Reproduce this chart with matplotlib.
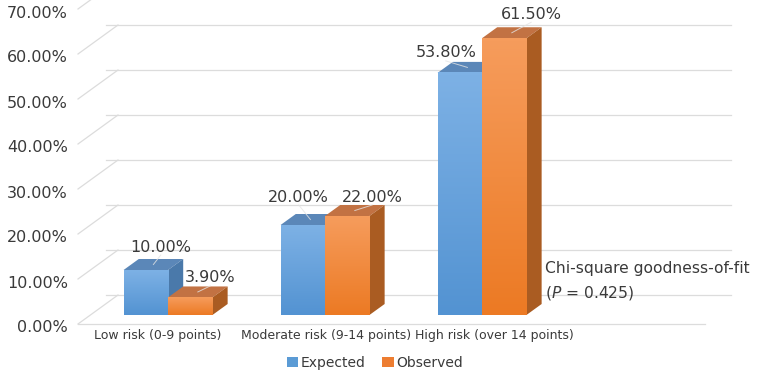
import numpy as np
import matplotlib.pyplot as plt
from matplotlib.patches import Polygon, Patch
from matplotlib.colors import LinearSegmentedColormap

# data
categories = ['Low risk (0-9 points)', 'Moderate risk (9-14 points)', 'High risk (over 14 points)']
expected = [10.0, 20.0, 53.8]
observed = [3.9, 22.0, 61.5]
series_names = ['Expected', 'Observed']
yticks = [0, 10, 20, 30, 40, 50, 60, 70]

W, H = 760, 378
fig = plt.figure(figsize=(7.6, 3.78), dpi=100)
ax = fig.add_axes([0, 0, 1, 1])

# scale: one category = 157 px, 1 % = 4.5 px (bar front plane)
XS, YS = 157.0, 4.5
X0, Y0 = 168, 315
ax.set_xlim(-X0 / XS, (W - X0) / XS)
ax.set_ylim(-(H - Y0) / YS, Y0 / YS)
ax.axis('off')


def dx(px):
    return px / XS


def dy(px):
    return -px / YS


# fake 3d: depth offsets in pixels
front_off = (dx(-12.4), dy(9))
back_off = (dx(27.6), dy(-20))
bar_off = (dx(15.2), dy(-11))

grid_c = '#dcdcdc'
txt_c = '#3a3a3a'
left = dx(78 - X0)
right = dx(705 - X0)

# back wall gridlines + left wall diagonals
for v in yticks:
    ax.plot([left + back_off[0], right + back_off[0] + dx(-2)], [v + back_off[1]] * 2,
            color=grid_c, lw=0.9, zorder=1)
    ax.plot([left + front_off[0] + dx(12.4), left + back_off[0] + dx(12.4)],
            [v + front_off[1], v + back_off[1]], color=grid_c, lw=0.9, zorder=1)
    ax.text(dx(68 - X0), v + front_off[1] + dy(4), f'{v:.2f}%', ha='right', va='center',
            fontsize=11.5, color=txt_c)
# floor front edge
ax.plot([left + dx(12.4) + front_off[0], right + dx(12.4) + front_off[0]],
        [front_off[1]] * 2, color=grid_c, lw=0.9, zorder=1)

styles = {
    'Expected': dict(top='#7db1e5', bot='#5393d2', lid='#5b87b8', side='#4a79aa', leg='#5b9bd5'),
    'Observed': dict(top='#f69c5c', bot='#ec7a24', lid='#c27243', side='#aa5c22', leg='#ed7d31'),
}
bw = 0.283
label_off = [[(15, -23), (20, -19.5)], [(-4, -28), (25, -19)], [(-14, -20), (27, -24)]]

z = 3
for i, cat in enumerate(categories):
    for j, (name, vals) in enumerate(zip(series_names, [expected, observed])):
        v = vals[i]
        st = styles[name]
        xl = i + (j - 1) * bw
        xr = xl + bw
        ox, oy = bar_off
        ax.add_patch(Polygon([(xl, v), (xr, v), (xr + ox, v + oy), (xl + ox, v + oy)],
                             closed=True, fc=st['lid'], ec='none', zorder=z))
        ax.add_patch(Polygon([(xr, 0), (xr, v), (xr + ox, v + oy), (xr + ox, oy)],
                             closed=True, fc=st['side'], ec='none', zorder=z))
        cmap = LinearSegmentedColormap.from_list(name, [st['bot'], st['top']])
        grad = np.linspace(0, 1, 64).reshape(-1, 1)
        ax.imshow(grad, cmap=cmap, extent=[xl, xr, 0, v], origin='lower',
                  aspect='auto', interpolation='bilinear', zorder=z + 1)
        z += 2
        lx, ly = label_off[i][j]
        tx, ty = (xl + xr) / 2 + dx(lx), v + dy(ly)
        # faint leader line onto the bar top
        ax.plot([tx, (xl + xr) / 2 + ox / 2], [ty + dy(8), v + oy / 2],
                color='#e4e4e4', lw=0.7, alpha=0.8, zorder=19)
        ax.text(tx, ty, f'{v:.2f}%', ha='center', va='center', fontsize=11.5,
                color=txt_c, zorder=20)

ax.set_xlim(-X0 / XS, (W - X0) / XS)
ax.set_ylim(-(H - Y0) / YS, Y0 / YS)

# category labels
for i, cat in enumerate(categories):
    ax.text(-0.064 + 1.073 * i, dy(336 - Y0), cat, ha='center', va='center',
            fontsize=9, color=txt_c)

# annotation
ax.text(dx(545 - X0), dy(268 - Y0), 'Chi-square goodness-of-fit', ha='left', va='center',
        fontsize=11.2, color=txt_c)
ax.text(dx(545 - X0), dy(293 - Y0), '($P$ = 0.425)', ha='left', va='center',
        fontsize=11.2, color=txt_c)

handles = [Patch(fc=styles[n]['leg'], ec='none', label=n) for n in series_names]
fig.legend(handles=handles, loc='center', bbox_to_anchor=(375 / W, 1 - 363 / H), ncol=2,
           frameon=False, fontsize=10, handlelength=0.8, handleheight=0.8,
           handletextpad=0.2, columnspacing=1.2, labelcolor=txt_c)

fig.savefig('out.png', dpi=100)
